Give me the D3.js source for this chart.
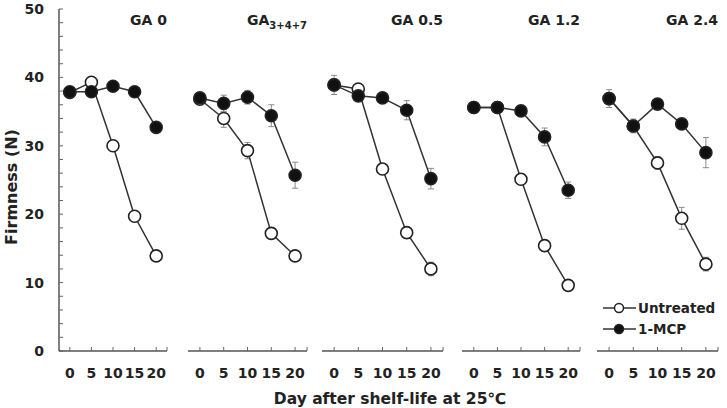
<!DOCTYPE html>
<html><head><meta charset="utf-8">
<script src="https://cdn.jsdelivr.net/npm/d3@7"></script>
<style>
html,body{margin:0;padding:0;background:#fff;}
svg{display:block;}
text{font-family:"DejaVu Sans",sans-serif;font-weight:bold;fill:#222;}
</style></head>
<body>
<svg id="chart" width="727" height="408"></svg>
<script>
// ---- data ----
const days = [0, 5, 10, 15, 20];
const panelTitles = ["GA 0", "GA3+4+7", "GA 0.5", "GA 1.2", "GA 2.4"];
const yTicks = [0, 10, 20, 30, 40, 50];
const seriesNames = ["Untreated", "1-MCP"];
const untreated = [
  [37.8, 39.3, 30.0, 19.7, 13.9],
  [36.8, 34.0, 29.3, 17.2, 13.9],
  [38.9, 38.3, 26.6, 17.3, 12.0],
  [35.6, 35.6, 25.1, 15.4, 9.6],
  [36.9, 32.9, 27.5, 19.4, 12.7]
];
const untreatedSE = [
  [0.5, 0.5, 0.8, 0.8, 0.6],
  [0.5, 1.3, 1.2, 0.8, 0.6],
  [0.5, 0.6, 0.8, 0.8, 1.0],
  [0.4, 0.4, 0.8, 0.8, 0.6],
  [0.5, 0.8, 0.9, 1.6, 1.0]
];
const mcp = [
  [37.9, 37.9, 38.7, 37.9, 32.7],
  [37.0, 36.2, 37.1, 34.4, 25.7],
  [38.9, 37.3, 37.0, 35.2, 25.2],
  [35.6, 35.6, 35.1, 31.3, 23.5],
  [36.9, 32.9, 36.1, 33.2, 29.0]
];
const mcpSE = [
  [0.6, 0.6, 0.6, 0.6, 0.7],
  [0.8, 1.2, 1.0, 1.6, 1.9],
  [1.4, 0.8, 0.6, 1.4, 1.5],
  [0.4, 0.4, 0.5, 1.3, 1.2],
  [1.3, 1.0, 0.6, 0.6, 2.2]
];

// ---- layout ----
const panelRanges = [[59, 167], [188, 307], [322, 443], [462, 580], [597, 718]];
const yTop = 9, yBottom = 351;
const svg = d3.select("#chart");
const y = d3.scaleLinear().domain([0, 50]).range([yBottom, yTop]);

const lineCol = "#333", errCol = "#8a8a8a";

// Y axis
const ya = svg.append("g");
ya.append("line").attr("x1", 59).attr("x2", 59).attr("y1", y(0)).attr("y2", y(50))
  .attr("stroke", "#555").attr("stroke-width", 1.5);
ya.selectAll("line.mt").data(d3.range(0, 51, 2)).join("line").attr("class", "mt")
  .attr("x1", 59).attr("x2", 63).attr("y1", d => y(d)).attr("y2", d => y(d))
  .attr("stroke", "#666").attr("stroke-width", 1);
ya.selectAll("text").data(yTicks).join("text")
  .attr("x", 44).attr("y", d => y(d)).attr("dy", "0.36em")
  .attr("text-anchor", "end").attr("font-size", 14).text(d => d);

svg.append("text").attr("transform", `translate(17,187) rotate(-90)`)
  .attr("text-anchor", "middle").attr("font-size", 16).text("Firmness (N)");

panelTitles.forEach((title, i) => {
  const [x0, x1] = panelRanges[i];
  const x = d3.scaleLinear().domain([-2.5, 22.5]).range([x0, x1]);
  const g = svg.append("g");
  // x axis
  g.append("line").attr("x1", x0).attr("x2", x1).attr("y1", yBottom).attr("y2", yBottom)
    .attr("stroke", "#555").attr("stroke-width", 1.5);
  g.selectAll("line.xt").data(days.concat([22.5])).join("line").attr("class", "xt")
    .attr("x1", d => x(d)).attr("x2", d => x(d)).attr("y1", yBottom).attr("y2", yBottom - 4)
    .attr("stroke", "#666").attr("stroke-width", 1);
  g.selectAll("text.xl").data(days).join("text").attr("class", "xl")
    .attr("x", d => x(d)).attr("y", 378).attr("text-anchor", "middle")
    .attr("font-size", 14).text(d => d);

  // title
  const t = g.append("text").attr("x", x1).attr("y", 25).attr("text-anchor", "end").attr("font-size", 14);
  if (title === "GA3+4+7") {
    t.append("tspan").text("GA");
    t.append("tspan").attr("font-size", 10).attr("dy", 4).text("3+4+7");
  } else t.text(title);

  const series = [
    {vals: untreated[i], se: untreatedSE[i], fill: "#fff"},
    {vals: mcp[i], se: mcpSE[i], fill: "#111"}
  ];
  const line = d3.line().x((d, j) => x(days[j])).y(d => y(d));
  series.forEach(s => {
    // error bars
    const eg = g.append("g").attr("stroke", errCol).attr("stroke-width", 1);
    s.vals.forEach((v, j) => {
      const cx = x(days[j]), lo = y(v - s.se[j]), hi = y(v + s.se[j]);
      eg.append("line").attr("x1", cx).attr("x2", cx).attr("y1", lo).attr("y2", hi);
      eg.append("line").attr("x1", cx - 3).attr("x2", cx + 3).attr("y1", lo).attr("y2", lo);
      eg.append("line").attr("x1", cx - 3).attr("x2", cx + 3).attr("y1", hi).attr("y2", hi);
    });
    g.append("path").attr("d", line(s.vals)).attr("fill", "none")
      .attr("stroke", lineCol).attr("stroke-width", 1.5);
    g.selectAll(null).data(s.vals).join("circle")
      .attr("cx", (d, j) => x(days[j])).attr("cy", d => y(d)).attr("r", 6)
      .attr("fill", s.fill).attr("stroke", "#222").attr("stroke-width", 1.6);
  });
});

// legend
const legend = svg.append("g");
const legendFills = ["#fff", "#111"];
seriesNames.forEach((name, k) => {
  const ly = 308 + k * 21;
  legend.append("line").attr("x1", 603).attr("x2", 636).attr("y1", ly).attr("y2", ly)
    .attr("stroke", lineCol).attr("stroke-width", 1.5);
  legend.append("circle").attr("cx", 619).attr("cy", ly).attr("r", 4.5)
    .attr("fill", legendFills[k]).attr("stroke", "#222").attr("stroke-width", 1.5);
  legend.append("text").attr("x", 638).attr("y", ly).attr("dy", "0.36em")
    .attr("font-size", 13.5).text(name);
});

svg.append("text").attr("x", 390).attr("y", 404).attr("text-anchor", "middle")
  .attr("font-size", 15.5).text("Day after shelf-life at 25℃");
</script>
</body></html>
